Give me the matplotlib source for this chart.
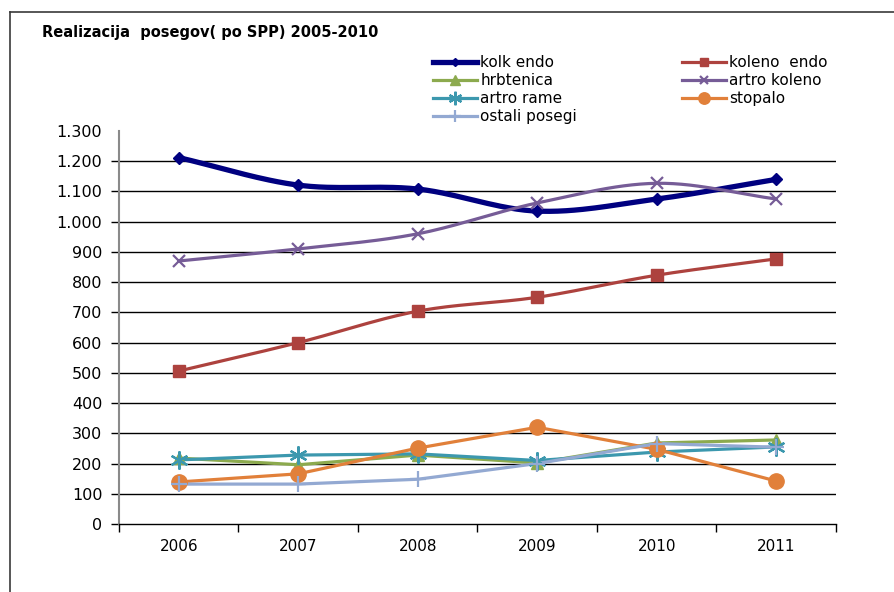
import matplotlib
matplotlib.use("Agg")
import matplotlib.pyplot as plt
from matplotlib.lines import Line2D
from matplotlib.ticker import FuncFormatter, FixedLocator
import numpy as np

years = ["2006", "2007", "2008", "2009", "2010", "2011"]

kolk_endo = [1212, 1121, 1108, 1035, 1075, 1140]
koleno_endo = [506, 600, 704, 750, 823, 877]
hrbtenica = [218, 196, 228, 202, 268, 278]
artro_koleno = [870, 910, 960, 1062, 1127, 1075]
artro_rame = [212, 228, 232, 210, 238, 255]
stopalo = [139, 166, 251, 320, 247, 142]
ostali_posegi = [132, 132, 148, 200, 266, 254]

y_ticks = list(range(0, 1301, 100))

# name, values, color, marker, markersize, linewidth, smoothed
series = [
    ("kolk endo", kolk_endo, "#000080", "D", 6, 3.8, True),
    ("koleno  endo", koleno_endo, "#AD423E", "s", 8, 2.3, True),
    ("hrbtenica", hrbtenica, "#8CAA4E", "^", 9, 2.3, False),
    ("artro koleno", artro_koleno, "#765C97", "x", 8, 2.3, True),
    ("artro rame", artro_rame, "#3C98AE", (6, 2, 0), 13, 2.3, False),
    ("stopalo", stopalo, "#E1803A", "o", 11, 2.3, False),
    ("ostali posegi", ostali_posegi, "#93A9D2", "+", 12, 2.3, False),
]


def smooth(xs, ys, n=30):
    """Catmull-Rom curve through the points, like Excel's smoothed line."""
    xs = np.asarray(xs, float)
    ys = np.asarray(ys, float)
    px = np.concatenate([[2 * xs[0] - xs[1]], xs, [2 * xs[-1] - xs[-2]]])
    py = np.concatenate([[2 * ys[0] - ys[1]], ys, [2 * ys[-1] - ys[-2]]])
    out_x, out_y = [], []
    t = np.linspace(0, 1, n)
    for i in range(1, len(px) - 2):
        for arr, out in ((px, out_x), (py, out_y)):
            p0, p1, p2, p3 = arr[i - 1], arr[i], arr[i + 1], arr[i + 2]
            out.extend(0.5 * ((2 * p1) + (-p0 + p2) * t
                              + (2 * p0 - 5 * p1 + 4 * p2 - p3) * t ** 2
                              + (-p0 + 3 * p1 - 3 * p2 + p3) * t ** 3))
    return np.array(out_x), np.array(out_y)


fig = plt.figure(figsize=(8.95, 5.92), dpi=100)
ax = fig.add_axes([119 / 895, 1 - 524 / 592, (836 - 119) / 895, (524 - 131) / 592])

x = np.arange(len(years))
handles = []
for name, vals, color, marker, ms, lw, is_smooth in series:
    if is_smooth:
        sx, sy = smooth(x, vals)
        ax.plot(sx, sy, color=color, lw=lw, solid_capstyle="round", zorder=3)
    else:
        ax.plot(x, vals, color=color, lw=lw, solid_joinstyle="round", zorder=3)
    mew = 1.6 if marker in ("x", "+", (6, 2, 0)) else 1
    ax.plot(x, vals, ls="none", marker=marker, ms=ms, color=color, mew=mew, zorder=4)
    handles.append(Line2D([], [], color=color, lw=lw, marker=marker, ms=ms * 0.75, mew=mew,
                          label=name))

ax.set_xlim(-0.5, len(years) - 0.5)
ax.set_ylim(0, 1300)

# horizontal gridlines (none at the top value)
for v in y_ticks[1:-1]:
    ax.axhline(v, color="black", lw=1, zorder=1)

ax.set_yticks(y_ticks)
ax.yaxis.set_major_formatter(FuncFormatter(lambda v, p: f"{int(v):,}".replace(",", ".")))
ax.tick_params(axis="y", direction="out", length=6, width=1, color="black",
               labelsize=11.5, pad=6)
ax.yaxis.get_major_ticks()[-1].tick1line.set_visible(False)

ax.set_xticks(x)
ax.set_xticklabels(years)
ax.xaxis.set_minor_locator(FixedLocator(np.arange(-0.5, len(years), 1.0)))
ax.tick_params(axis="x", which="major", length=0, labelsize=11, pad=11)
ax.tick_params(axis="x", which="minor", direction="out", length=6, width=1, color="black")

for side in ("top", "right"):
    ax.spines[side].set_visible(False)
ax.spines["left"].set_color("#8a8a8a")
ax.spines["left"].set_linewidth(1.5)
ax.spines["bottom"].set_color("black")
ax.spines["bottom"].set_linewidth(1)

fig.text(42 / 895, 1 - 33 / 592, "Realizacija  posegov( po SPP) 2005-2010",
         fontsize=10.5, fontweight="bold", ha="left", va="center")

leg_kw = dict(frameon=False, fontsize=11, handlelength=2.9, handletextpad=0.2,
              labelspacing=0.2, borderpad=0, borderaxespad=0, loc="upper left")
fig.legend(handles=[handles[i] for i in (0, 2, 4, 6)],
           bbox_to_anchor=(433 / 895, 1 - 55 / 592), **leg_kw)
fig.legend(handles=[handles[i] for i in (1, 3, 5)],
           bbox_to_anchor=(682 / 895, 1 - 55 / 592), **leg_kw)

# outer frame, left and top edges
fig.add_artist(Line2D([10 / 895, 10 / 895], [0, 1 - 12 / 592], color="#3a3a3a", lw=1.2))
fig.add_artist(Line2D([10 / 895, 1], [1 - 12 / 592, 1 - 12 / 592], color="#3a3a3a", lw=1.2))

fig.savefig("out.png", dpi=100)
